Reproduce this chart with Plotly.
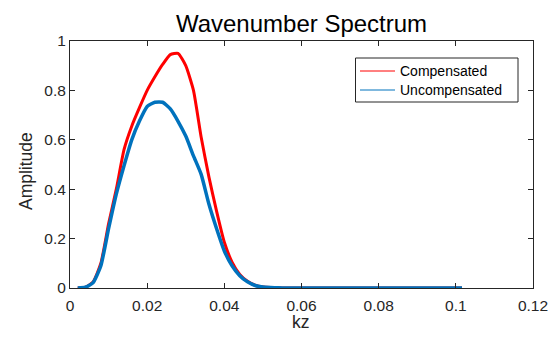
import plotly.graph_objects as go

kz = [0.002, 0.004, 0.006, 0.008, 0.010, 0.012, 0.014, 0.016, 0.018, 0.020,
      0.022, 0.024, 0.026, 0.028, 0.030, 0.032, 0.034, 0.036, 0.038, 0.040,
      0.042, 0.044, 0.046, 0.048, 0.050, 0.052, 0.054, 0.056, 0.058, 0.060,
      0.062, 0.064, 0.066, 0.068, 0.070, 0.072, 0.074, 0.076, 0.078, 0.080,
      0.082, 0.084, 0.086, 0.088, 0.090, 0.092, 0.094, 0.096, 0.098, 0.100,
      0.1016]

compensated = [0.0, 0.003, 0.025, 0.10, 0.26, 0.40, 0.56, 0.655, 0.73, 0.80,
               0.855, 0.905, 0.945, 0.95, 0.90, 0.80, 0.61, 0.45, 0.31, 0.185,
               0.105, 0.055, 0.027, 0.011, 0.004, 0.002, 0.001, 0.0, 0.0, 0.0,
               0.0, 0.0, 0.0, 0.0, 0.0, 0.0, 0.0, 0.0, 0.0, 0.0,
               0.0, 0.0, 0.0, 0.0, 0.0, 0.0, 0.0, 0.0, 0.0, 0.0,
               0.0]

uncompensated = [0.0, 0.003, 0.022, 0.09, 0.24, 0.38, 0.495, 0.60, 0.676, 0.735,
                 0.752, 0.752, 0.725, 0.675, 0.615, 0.535, 0.46, 0.34, 0.24, 0.15,
                 0.09, 0.05, 0.025, 0.01, 0.004, 0.002, 0.001, 0.0, 0.0, 0.0,
                 0.0, 0.0, 0.0, 0.0, 0.0, 0.0, 0.0, 0.0, 0.0, 0.0,
                 0.0, 0.0, 0.0, 0.0, 0.0, 0.0, 0.0, 0.0, 0.0, 0.0,
                 0.0]

series_names = ["Compensated", "Uncompensated"]
x_ticks = [0, 0.02, 0.04, 0.06, 0.08, 0.1, 0.12]
x_tick_labels = ["0", "0.02", "0.04", "0.06", "0.08", "0.1", "0.12"]
y_ticks = [0, 0.2, 0.4, 0.6, 0.8, 1]
y_tick_labels = ["0", "0.2", "0.4", "0.6", "0.8", "1"]

FONT = "Liberation Sans, Arial, sans-serif"
AX = "#262626"
RED = "#FF0000"
BLUE = "#0072BD"

W, H = 554, 338
L, R, T, B = 70, 21, 41, 50
PW, PH = W - L - R, H - T - B

def px_x(p):
    return (p - L) / PW

def px_y(p):
    return (H - B - p) / PH

fig = go.Figure()
fig.add_trace(go.Scatter(x=kz, y=compensated, mode="lines", name=series_names[0],
                         showlegend=False,
                         line=dict(color=RED, width=3, shape="spline", smoothing=0.5),
                         cliponaxis=False))
fig.add_trace(go.Scatter(x=kz, y=uncompensated, mode="lines", name=series_names[1],
                         showlegend=False,
                         line=dict(color=BLUE, width=3.5, shape="spline", smoothing=0.5),
                         cliponaxis=False))

# legend box, drawn manually to match the reference layout
fig.add_shape(type="rect", xref="paper", yref="paper",
              x0=px_x(355.5), x1=px_x(518), y0=px_y(102), y1=px_y(58),
              line=dict(color=AX, width=1), fillcolor="white", layer="above")
legend_rows = [(series_names[0], RED, 71), (series_names[1], BLUE, 90)]
for name, col, ypix in legend_rows:
    fig.add_shape(type="line", xref="paper", yref="paper",
                  x0=px_x(360), x1=px_x(395), y0=px_y(ypix), y1=px_y(ypix),
                  line=dict(color=col, width=1), layer="above")
    fig.add_annotation(text=name, xref="paper", yref="paper",
                       x=px_x(398), y=px_y(ypix), xanchor="left", yanchor="middle",
                       showarrow=False, font=dict(size=14, color="black", family=FONT))

# axis titles
fig.add_annotation(text="kz", xref="paper", yref="paper", x=px_x(300.5), y=px_y(321.5),
                   xanchor="center", yanchor="middle", showarrow=False,
                   font=dict(size=17.5, color=AX, family=FONT))
fig.add_annotation(text="Amplitude", xref="paper", yref="paper", x=px_x(26.5), y=px_y(171.5),
                   xanchor="center", yanchor="middle", showarrow=False, textangle=-90,
                   font=dict(size=17.5, color=AX, family=FONT))

fig.update_layout(
    width=W, height=H,
    margin=dict(l=L, r=R, t=T, b=B),
    paper_bgcolor="white", plot_bgcolor="white",
    font=dict(family=FONT, color=AX),
    title=dict(text="Wavenumber Spectrum", x=301.5 / W, xref="container", xanchor="center",
               y=1 - 32 / H, yref="container", yanchor="bottom",
               font=dict(size=24, color="black", family=FONT)),
    showlegend=False,
)
fig.update_xaxes(range=[0, 0.12], tickvals=x_ticks, ticktext=x_tick_labels,
                 showline=True, linecolor=AX, linewidth=1, mirror="ticks",
                 ticks="inside", ticklen=5, tickcolor=AX, showgrid=False, zeroline=False,
                 tickfont=dict(size=15.5, color=AX, family=FONT), automargin=False,
                 ticklabelstandoff=3)
fig.update_yaxes(range=[0, 1], tickvals=y_ticks, ticktext=y_tick_labels,
                 showline=True, linecolor=AX, linewidth=1, mirror="ticks",
                 ticks="inside", ticklen=5, tickcolor=AX, showgrid=False, zeroline=False,
                 tickfont=dict(size=15.5, color=AX, family=FONT), automargin=False)

fig.write_html("out.html", post_script="document.body.style.margin='0';",
               config={"displayModeBar": False})
